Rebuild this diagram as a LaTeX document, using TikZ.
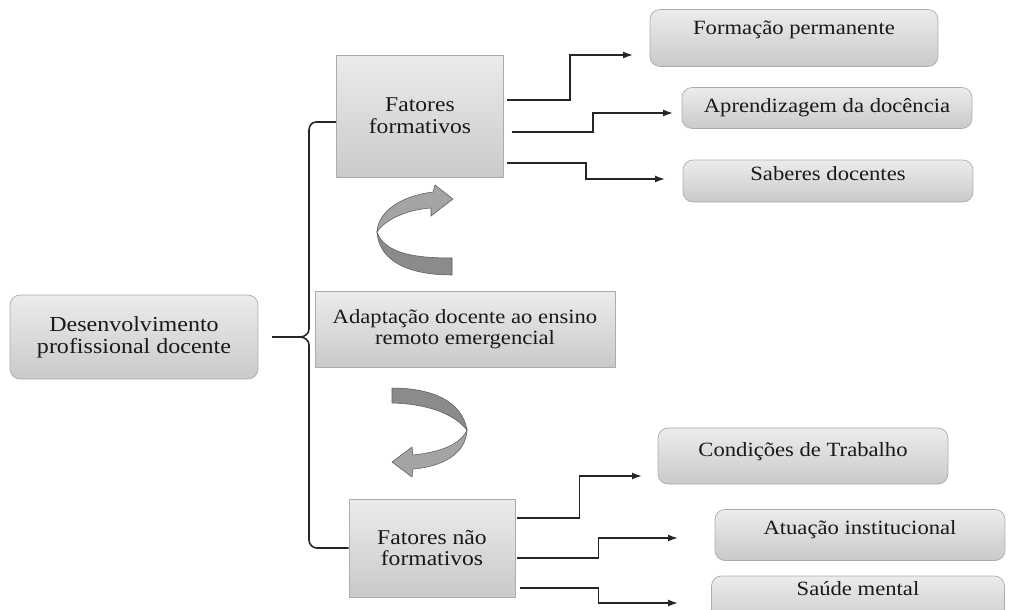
\documentclass[tikz,border=0pt]{standalone}
\usepackage{fontspec}
\setmainfont[FakeStretch=1.12]{Liberation Serif}
\usetikzlibrary{arrows.meta}
\definecolor{ribbonlight}{HTML}{A4A4A4}
\definecolor{ribbondark}{HTML}{8B8B8B}

\begin{document}
\begin{tikzpicture}
		[x=0.02cm, y=-0.02cm,
		every node/.style={inner sep=1pt, align=center, text=black!90, font=\fontsize{11.5}{12}\selectfont},
		box/.style={draw=gray!65, top color=gray!15, bottom color=gray!42},
		roundbox/.style={box, rounded corners=0.2cm},
		conn/.style={line width=0.9pt, black!85, -{Latex[length=0.2cm, width=0.14cm]}},
		brace/.style={line width=0.9pt, black!85},
		ribbon/.style={draw=gray!70!black, line width=0.3pt}]
		\useasboundingbox (0,0) rectangle (1014,609);
		
		% central column
		\node[roundbox, minimum width=4.96cm, minimum height=1.68cm, font=\fontsize{12.2}{12.5}\selectfont] (dpd) at (134,337) {Desenvolvimento\\profissional docente};
		\node[box, minimum width=3.34cm, minimum height=2.44cm, font=\fontsize{12}{12.5}\selectfont] (ff) at (420,116) {Fatores\\formativos};
		\node[box, minimum width=6cm, minimum height=1.52cm] (adapt) at (465,329) {Adaptação docente ao ensino\\remoto emergencial};
		\node[box, minimum width=3.32cm, minimum height=1.96cm, font=\fontsize{12}{12.5}\selectfont] (fnf) at (432,548) {Fatores não\\formativos};
		
		% right column
		\node[roundbox, minimum width=5.76cm, minimum height=1.14cm, text depth=0.4cm] (fp) at (794,38) {Formação permanente};
		\node[roundbox, minimum width=5.8cm, minimum height=0.82cm] (ad) at (827,108) {Aprendizagem da docência};
		\node[roundbox, minimum width=5.8cm, minimum height=0.84cm, text depth=0.3cm] (sd) at (828,181) {Saberes docentes};
		\node[roundbox, minimum width=5.8cm, minimum height=1.12cm, text depth=0.25cm] (ct) at (803,456) {Condições de Trabalho};
		\node[roundbox, minimum width=5.8cm, minimum height=1.02cm, text depth=0.32cm] (ai) at (860,535) {Atuação institucional};
		\node[roundbox, minimum width=5.86cm, minimum height=1.0cm, text depth=0.5cm] (sm) at (858,601) {Saúde mental};
		
		% brace
		\coordinate (tip) at (300,337);
		\draw[brace, shorten <=8pt] (dpd.east |- tip) -- (tip);
		\draw[brace] ([yshift=-0.12cm]ff.west) -- (316,122) to[out=180,in=90] (309,130) -- (309,329)
			to[out=270,in=0] (tip) to[out=0,in=90] (309,345) -- (309,540) to[out=270,in=180] (317,548) -- (fnf.west);
		
		% arrow tips
		\coordinate (tfp) at (633,55);
		\coordinate (tad) at (673,113);
		\coordinate (tsd) at (665,179);
		\coordinate (tct) at (642,476);
		\coordinate (tai) at (678,538);
		\coordinate (tsm) at (678,603);
		
		\draw[conn] ([shift={(3,-16)}]ff.east) -- ++(63,0) |- (tfp);
		\draw[conn] ([shift={(8,16)}]ff.east) -- ++(81,0) |- (tad);
		\draw[conn] ([shift={(3,47)}]ff.east) -- ++(79,0) |- (tsd);
		\draw[conn] ([shift={(2,-30)}]fnf.east) -- ++(62,0) |- (tct);
		\draw[conn] ([shift={(2,10)}]fnf.east) -- ++(81,0) |- (tai);
		\draw[conn] ([shift={(5,40)}]fnf.east) -- ++(78,0) |- (tsm);
		
		% upper turning arrow
		\fill[ribbondark, ribbon] (377,232) .. controls (385,255) and (420,258) .. (452,258)
			-- (452,275) .. controls (410,275) and (379,262) .. (377,232) -- cycle;
		\fill[ribbonlight, ribbon] (377,232) .. controls (378,212) and (400,196) .. (433,192)
			-- (435,185) -- (453,199) -- (431,216) -- (431,208) .. controls (405,210) and (385,220) .. (377,232) -- cycle;
		
		% lower turning arrow
		\fill[ribbondark, ribbon] (392,388) .. controls (430,388) and (462,400) .. (467,430)
			.. controls (455,415) and (430,404) .. (392,403) -- cycle;
		\fill[ribbonlight, ribbon] (467,430) .. controls (466,455) and (440,467) .. (413,469)
			-- (412,477) -- (392,462) -- (412,447) -- (413,455) .. controls (440,452) and (460,445) .. (467,430) -- cycle;
\end{tikzpicture}
\end{document}
